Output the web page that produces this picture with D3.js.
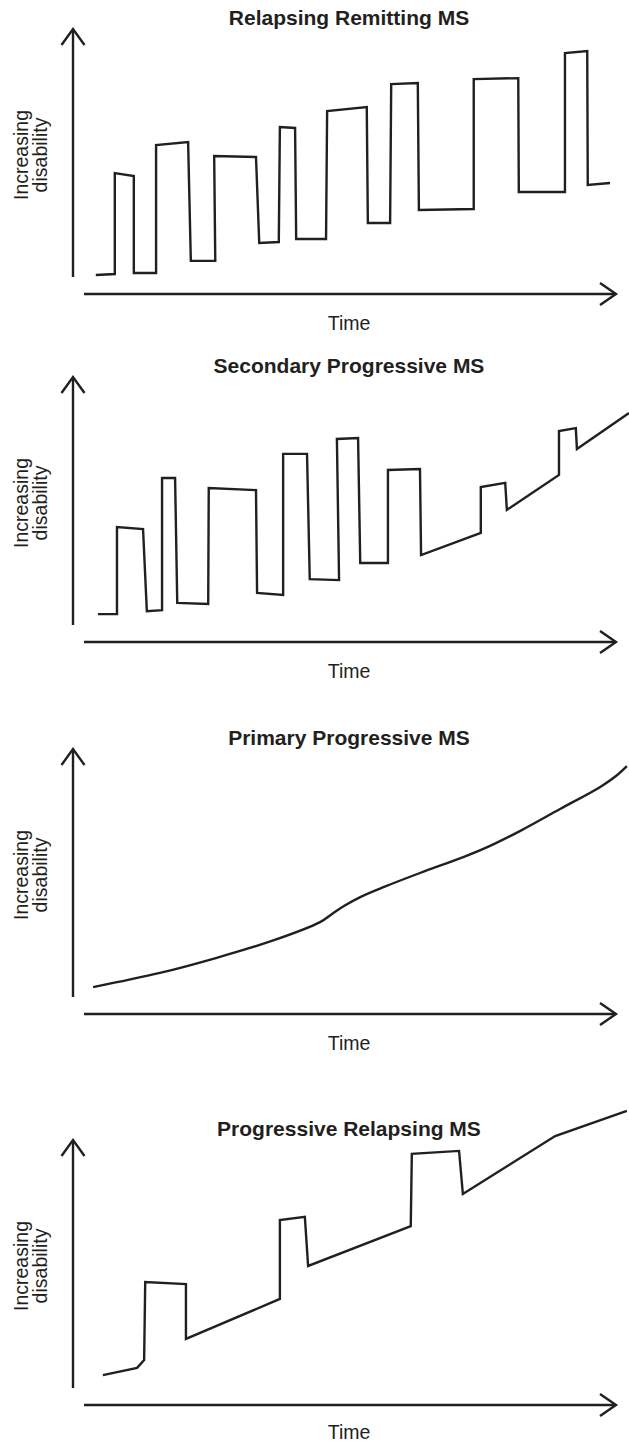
<!DOCTYPE html>
<html>
<head>
<meta charset="utf-8">
<script src="https://cdn.jsdelivr.net/npm/d3@7"></script>
<style>
  html, body { margin: 0; padding: 0; background: #ffffff; }
  svg { display: block; }
  text { font-family: "Liberation Sans", Arial, Helvetica, sans-serif; fill: #231f20; }
</style>
</head>
<body>
<svg id="chart" width="629" height="1443"></svg>
<script>
// Course titles, one per panel
const titles = [
  "Relapsing Remitting MS",
  "Secondary Progressive MS",
  "Primary Progressive MS",
  "Progressive Relapsing MS"
];
const yLabelLines = ["Increasing", "disability"];
const xLabel = "Time";

// Time (0–100 along the time axis) and disability level (0–100 along the disability axis)
const rrTime  = [4.2, 7.7, 7.7, 11.2, 11.2, 15.3, 15.3, 21.2, 21.7, 26.2, 26.0, 33.7, 34.3, 37.9, 38.1, 40.9, 41.1, 46.6, 46.8, 54.1, 54.3, 58.4, 58.6, 63.5, 63.7, 73.8, 73.8, 82.0, 82.1, 90.6, 90.6, 94.7, 94.8, 98.9];
const rrLevel = [0.8, 1.2, 41.9, 40.7, 1.6, 1.6, 53.2, 54.4, 6.5, 6.5, 48.8, 48.4, 13.7, 14.1, 60.5, 60.1, 15.3, 15.3, 66.9, 68.5, 21.8, 21.8, 77.8, 78.2, 27.0, 27.4, 79.8, 80.2, 34.3, 34.3, 90.3, 91.1, 37.1, 37.9];

const spTime  = [4.6, 8.1, 8.1, 12.9, 13.6, 16.4, 16.4, 18.8, 19.2, 24.9, 25.0, 33.7, 33.9, 38.7, 38.7, 43.1, 43.6, 49.0, 48.6, 52.5, 52.9, 58.0, 58.0, 63.9, 64.1, 75.1, 75.1, 79.6, 79.9, 89.5, 89.5, 92.6, 92.8, 102.4];
const spLevel = [4.4, 4.4, 39.5, 38.7, 5.6, 6.0, 59.3, 59.3, 8.9, 8.5, 55.2, 54.4, 12.9, 12.1, 69.0, 69.0, 18.5, 18.1, 75.0, 75.4, 25.0, 25.0, 62.5, 62.9, 28.2, 37.1, 55.6, 57.3, 46.4, 60.5, 78.2, 79.4, 71.0, 85.5];

const ppTime  = [3.7, 16.0, 26.3, 36.6, 45.5, 47.7, 49.9, 52.9, 57.3, 63.9, 72.0, 76.4, 82.3, 89.7, 97.1, 100.0, 102.0];
const ppLevel = [4.0, 9.7, 15.7, 22.6, 30.2, 33.5, 36.7, 40.3, 44.4, 50.0, 56.5, 60.5, 66.9, 75.8, 84.7, 89.1, 93.1];

const prTime  = [5.5, 11.8, 13.1, 13.3, 20.8, 20.8, 38.1, 38.1, 42.7, 43.3, 62.2, 62.4, 71.1, 71.8, 88.8, 102.0];
const prLevel = [5.2, 8.1, 11.3, 42.7, 41.9, 19.8, 35.9, 67.7, 69.0, 49.2, 65.3, 94.4, 95.6, 78.2, 101.6, 111.7];

const seriesTime  = [rrTime, spTime, ppTime, prTime];
const seriesLevel = [rrLevel, spLevel, ppLevel, prLevel];
const smoothSeries = [false, false, true, false];

// Layout
const ink = "#231f20";
const panelTop = [29, 377, 749, 1140];   // top of each disability axis
const timeLabelOffset = [36, 36, 36, 34];
const axisX = 73;                        // disability axis position
const axisLen = 248;                     // disability axis length
const timeAxisGap = 17;                  // gap below disability axis to time axis
const timeAxisStart = 84, timeAxisEnd = 616;
const strokeW = 2.4;

const svg = d3.select("#chart");

const x = d3.scaleLinear().domain([0, 100]).range([axisX, 616]);

panelTop.forEach((top, i) => {
  const bottom = top + axisLen;
  const y = d3.scaleLinear().domain([0, 100]).range([bottom, top]);
  const g = svg.append("g");
  const xAxisY = bottom + timeAxisGap;

  // disability axis with open arrowhead
  g.append("line")
    .attr("x1", axisX).attr("y1", bottom).attr("x2", axisX).attr("y2", top + 1)
    .attr("stroke", ink).attr("stroke-width", strokeW);
  g.append("path")
    .attr("d", `M${axisX - 11.5},${top + 16} L${axisX},${top} L${axisX + 11.5},${top + 16}`)
    .attr("fill", "none").attr("stroke", ink).attr("stroke-width", strokeW)
    .attr("stroke-linejoin", "miter");

  // time axis with open arrowhead
  g.append("line")
    .attr("x1", timeAxisStart).attr("y1", xAxisY).attr("x2", timeAxisEnd - 1).attr("y2", xAxisY)
    .attr("stroke", ink).attr("stroke-width", strokeW);
  g.append("path")
    .attr("d", `M${timeAxisEnd - 16},${xAxisY - 11} L${timeAxisEnd},${xAxisY} L${timeAxisEnd - 16},${xAxisY + 11}`)
    .attr("fill", "none").attr("stroke", ink).attr("stroke-width", strokeW)
    .attr("stroke-linejoin", "miter");

  // title
  g.append("text")
    .attr("x", 349).attr("y", top - 4)
    .attr("text-anchor", "middle")
    .attr("font-size", 21).attr("font-weight", "bold")
    .text(titles[i]);

  // time label
  g.append("text")
    .attr("x", 349).attr("y", xAxisY + timeLabelOffset[i])
    .attr("text-anchor", "middle")
    .attr("font-size", 19.5)
    .text(xLabel);

  // rotated disability label (two lines)
  const midY = (top + bottom) / 2 + 2;
  yLabelLines.forEach((ln, k) => {
    g.append("text")
      .attr("transform", `translate(${28 + k * 19},${midY}) rotate(-90)`)
      .attr("text-anchor", "middle")
      .attr("font-size", 19.5)
      .text(ln);
  });

  // disease course
  const pts = seriesTime[i].map((t, j) => [t, seriesLevel[i][j]]);
  const line = d3.line()
    .x(d => x(d[0]))
    .y(d => y(d[1]))
    .curve(smoothSeries[i] ? d3.curveCatmullRom.alpha(0.5) : d3.curveLinear);
  g.append("path")
    .datum(pts)
    .attr("d", line)
    .attr("fill", "none")
    .attr("stroke", ink)
    .attr("stroke-width", strokeW)
    .attr("stroke-linejoin", "miter")
    .attr("stroke-miterlimit", 10);
});
</script>
</body>
</html>
